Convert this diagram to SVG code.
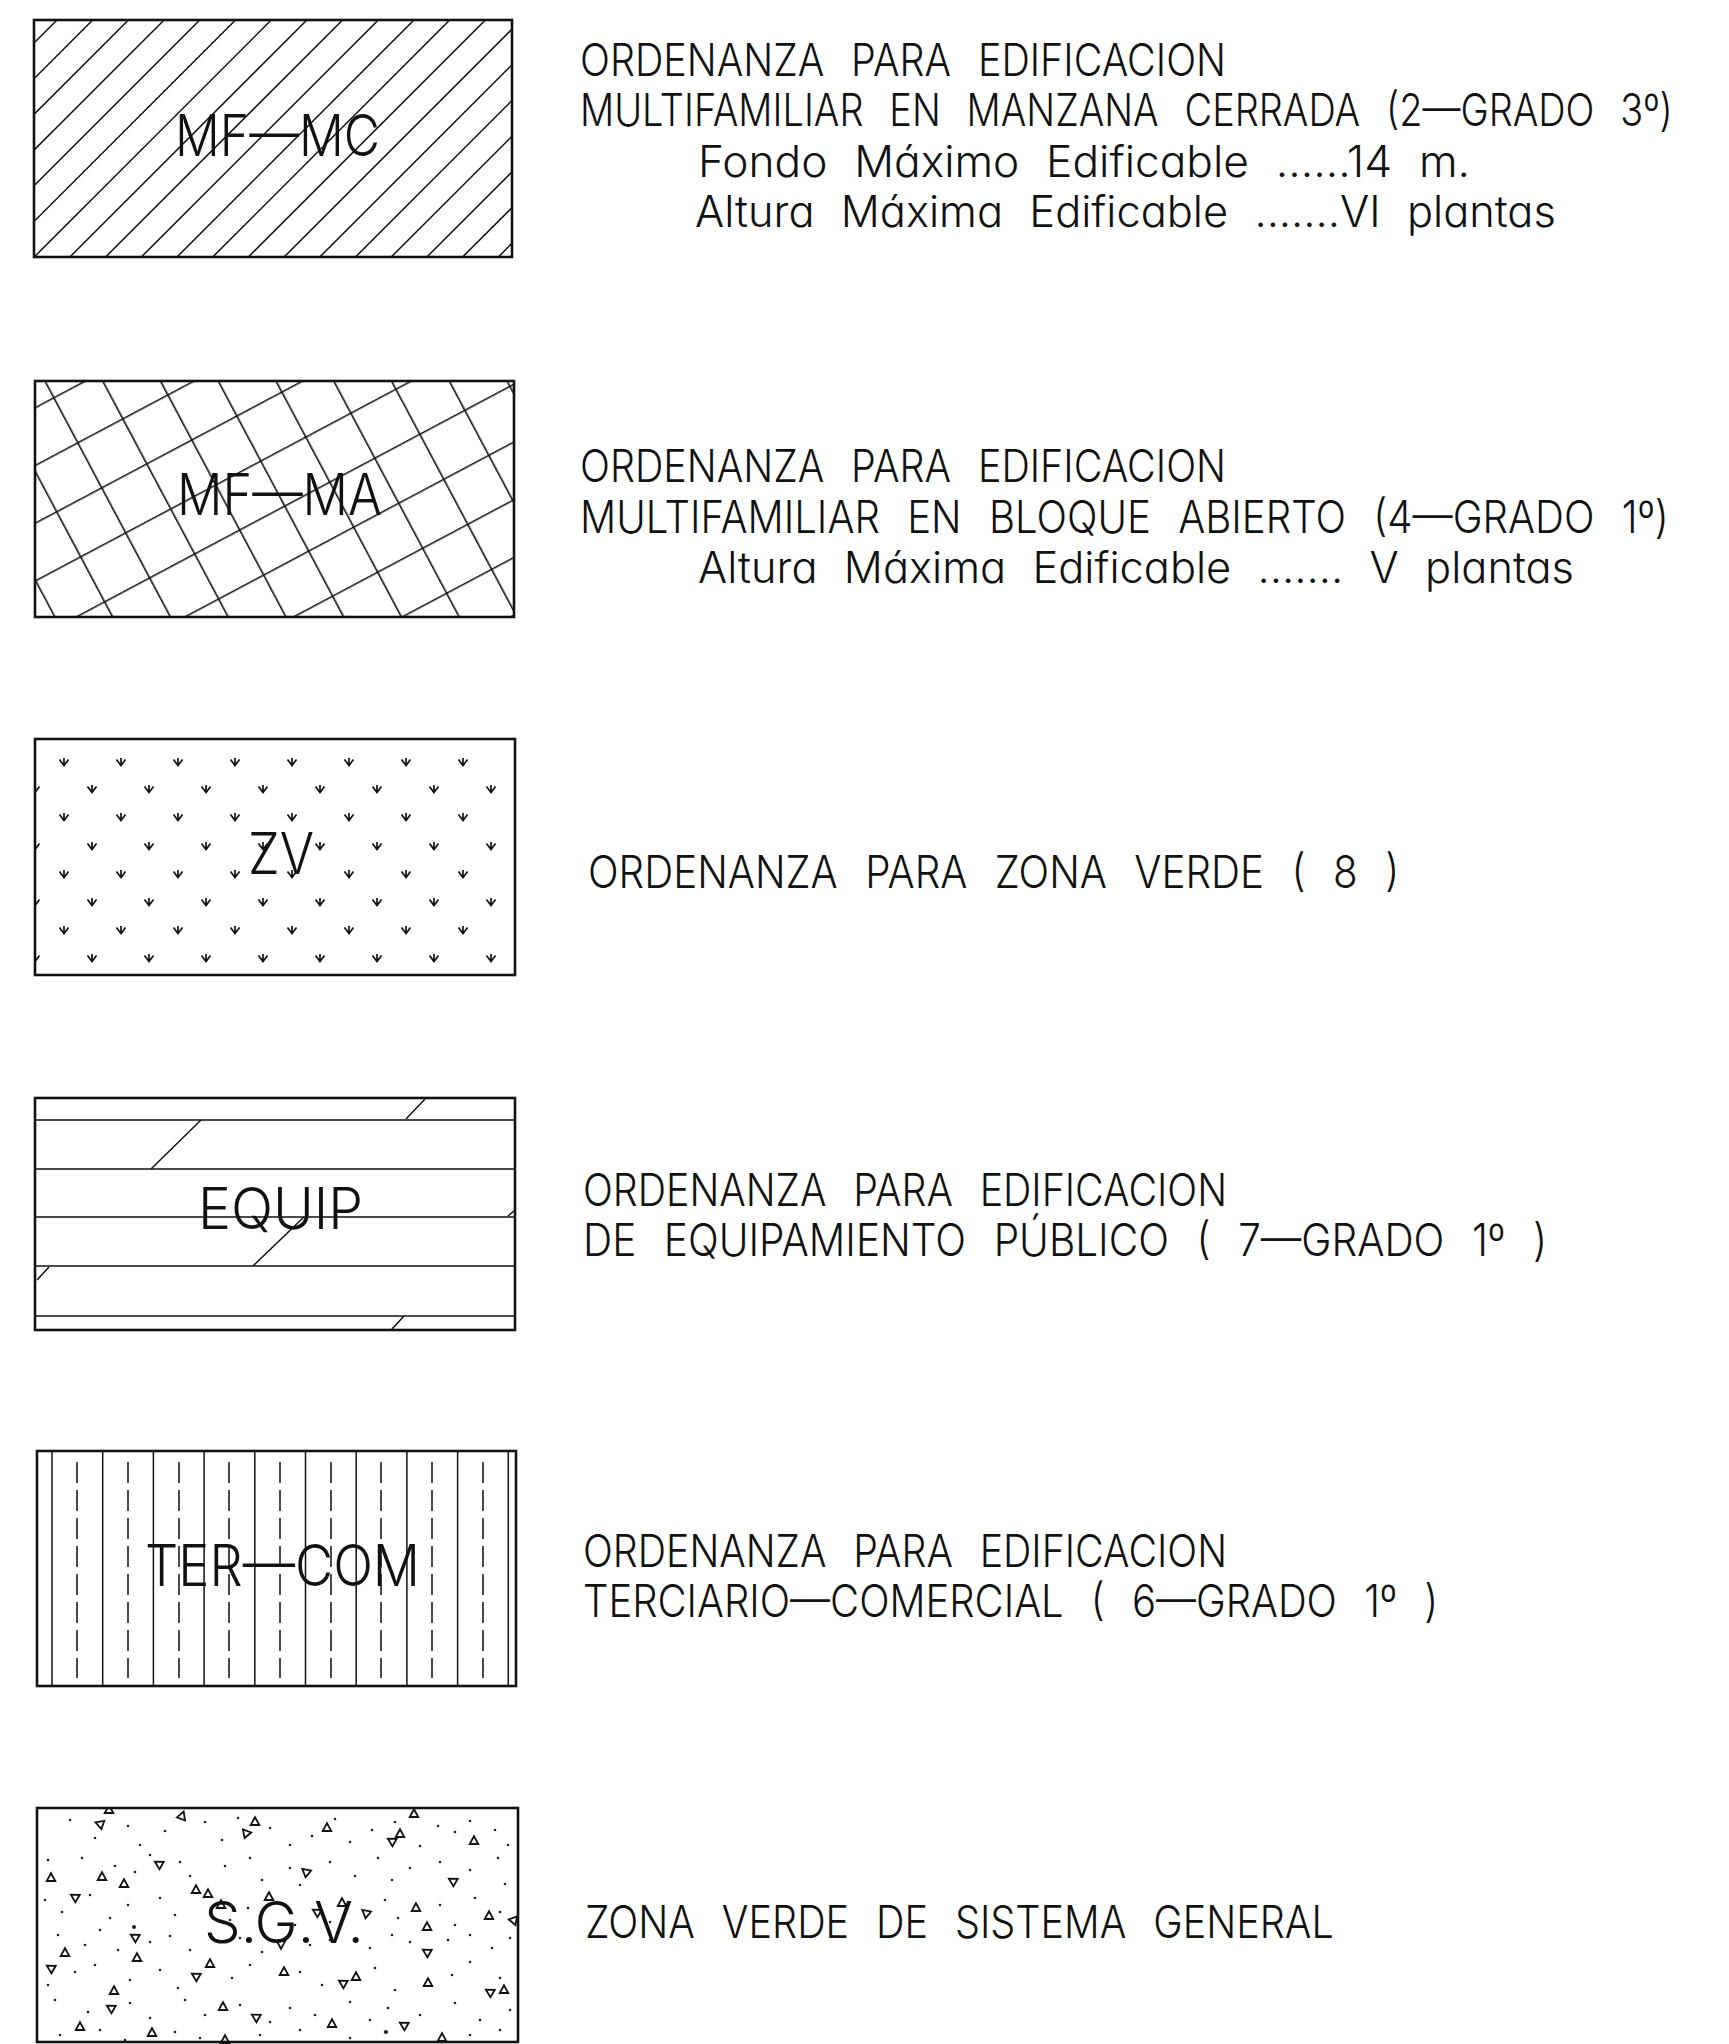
<svg xmlns="http://www.w3.org/2000/svg" width="1729" height="2044" viewBox="0 0 1729 2044">
<style>
.box{fill:none;stroke:#111;stroke-width:2.6}
.h{fill:none;stroke:#111;stroke-width:1.5}
.lbl{font-family:Inter,"Liberation Sans",Arial,sans-serif;font-weight:300;font-size:57px;fill:#111}
.t{font-family:Inter,"Liberation Sans",Arial,sans-serif;font-weight:300;font-size:45px;fill:#111;word-spacing:18px}
.s{font-family:Inter,"Liberation Sans",Arial,sans-serif;font-weight:300;font-size:43px;fill:#111;word-spacing:14px;font-feature-settings:"cv11"}
.sym{fill:none;stroke:#111;stroke-width:1.7}
.tri{fill:none;stroke:#111;stroke-width:1.8}
.dot{fill:#222}
</style>
<defs>
<pattern id="p2" patternUnits="userSpaceOnUse" x="0" y="18.7" width="51" height="51" patternTransform="translate(44,381) rotate(-28)">
<path d="M0,0 H51 M0,0 V51" stroke="#111" stroke-width="3.2"/>
</pattern>
<clipPath id="c1"><rect x="34" y="20" width="478" height="237"/></clipPath>
<clipPath id="c3"><rect x="35" y="739" width="480" height="236"/></clipPath>
<clipPath id="c6"><rect x="37" y="1808" width="481" height="236"/></clipPath>
<path id="v" class="sym" d="M-4.5,-3.5 L0,2.5 L4.5,-3.5 M0,-5 V2.5"/>
<path id="tr" class="tri" d="M0,-4.8 L4.3,3 L-4.3,3 Z"/>
</defs>

<g id="connectors"></g>

<g id="node-mfmc">
<path class="h" clip-path="url(#c1)" d="M-180,257 L57,20 M-144.3,257 L92.7,20 M-108.6,257 L128.4,20 M-72.9,257 L164.1,20 M-37.2,257 L199.8,20 M-1.5,257 L235.5,20 M34.2,257 L271.2,20 M69.9,257 L306.9,20 M105.6,257 L342.6,20 M141.3,257 L378.3,20 M177,257 L414,20 M212.7,257 L449.7,20 M248.4,257 L485.4,20 M284.1,257 L521.1,20 M319.8,257 L556.8,20 M355.5,257 L592.5,20 M391.2,257 L628.2,20 M426.9,257 L663.9,20 M462.6,257 L699.6,20 M498.3,257 L735.3,20"/>
<rect class="box" x="34" y="20" width="478" height="237"/>
<text class="lbl" x="175" y="156" textLength="205" lengthAdjust="spacingAndGlyphs">MF—MC</text>
</g>
<g id="legend-mfmc">
<text class="t" transform="matrix(0.8 0 0 1 580 76)" textLength="807.5" lengthAdjust="spacingAndGlyphs">ORDENANZA PARA EDIFICACION</text>
<text class="t" transform="matrix(0.8 0 0 1 580 126)" textLength="1366" lengthAdjust="spacingAndGlyphs">MULTIFAMILIAR EN MANZANA CERRADA (2—GRADO 3º)</text>
<text class="s" transform="matrix(0.8 0 0 1 698 177)" textLength="965" lengthAdjust="spacingAndGlyphs">Fondo Máximo Edificable ......14 m.</text>
<text class="s" transform="matrix(0.8 0 0 1 695 227)" textLength="1076" lengthAdjust="spacingAndGlyphs">Altura Máxima Edificable .......VI plantas</text>
</g>

<g id="node-mfma">
<rect x="35" y="381" width="479" height="236" fill="url(#p2)"/>
<rect class="box" x="35" y="381" width="479" height="236"/>
<text class="lbl" x="177" y="515" textLength="205" lengthAdjust="spacingAndGlyphs">MF—MA</text>
</g>
<g id="legend-mfma">
<text class="t" transform="matrix(0.8 0 0 1 580 482)" textLength="807.5" lengthAdjust="spacingAndGlyphs">ORDENANZA PARA EDIFICACION</text>
<text class="t" transform="matrix(0.8 0 0 1 580 533)" textLength="1361" lengthAdjust="spacingAndGlyphs">MULTIFAMILIAR EN BLOQUE ABIERTO (4—GRADO 1º)</text>
<text class="s" transform="matrix(0.8 0 0 1 698 583)" textLength="1095" lengthAdjust="spacingAndGlyphs">Altura Máxima Edificable ....... V plantas</text>
</g>

<g id="node-zv">
<g clip-path="url(#c3)">
<use href="#v" x="64" y="763"/><use href="#v" x="121" y="763"/><use href="#v" x="178" y="763"/><use href="#v" x="235" y="763"/><use href="#v" x="292" y="763"/><use href="#v" x="349" y="763"/><use href="#v" x="406" y="763"/><use href="#v" x="463" y="763"/>
<use href="#v" x="35" y="790"/><use href="#v" x="92" y="790"/><use href="#v" x="149" y="790"/><use href="#v" x="206" y="790"/><use href="#v" x="263" y="790"/><use href="#v" x="320" y="790"/><use href="#v" x="377" y="790"/><use href="#v" x="434" y="790"/><use href="#v" x="491" y="790"/>
<use href="#v" x="64" y="818"/><use href="#v" x="121" y="818"/><use href="#v" x="178" y="818"/><use href="#v" x="235" y="818"/><use href="#v" x="292" y="818"/><use href="#v" x="349" y="818"/><use href="#v" x="406" y="818"/><use href="#v" x="463" y="818"/>
<use href="#v" x="35" y="847"/><use href="#v" x="92" y="847"/><use href="#v" x="149" y="847"/><use href="#v" x="206" y="847"/><use href="#v" x="263" y="847"/><use href="#v" x="320" y="847"/><use href="#v" x="377" y="847"/><use href="#v" x="434" y="847"/><use href="#v" x="491" y="847"/>
<use href="#v" x="64" y="875"/><use href="#v" x="121" y="875"/><use href="#v" x="178" y="875"/><use href="#v" x="235" y="875"/><use href="#v" x="292" y="875"/><use href="#v" x="349" y="875"/><use href="#v" x="406" y="875"/><use href="#v" x="463" y="875"/>
<use href="#v" x="35" y="903"/><use href="#v" x="92" y="903"/><use href="#v" x="149" y="903"/><use href="#v" x="206" y="903"/><use href="#v" x="263" y="903"/><use href="#v" x="320" y="903"/><use href="#v" x="377" y="903"/><use href="#v" x="434" y="903"/><use href="#v" x="491" y="903"/>
<use href="#v" x="64" y="931"/><use href="#v" x="121" y="931"/><use href="#v" x="178" y="931"/><use href="#v" x="235" y="931"/><use href="#v" x="292" y="931"/><use href="#v" x="349" y="931"/><use href="#v" x="406" y="931"/><use href="#v" x="463" y="931"/>
<use href="#v" x="35" y="959"/><use href="#v" x="92" y="959"/><use href="#v" x="149" y="959"/><use href="#v" x="206" y="959"/><use href="#v" x="263" y="959"/><use href="#v" x="320" y="959"/><use href="#v" x="377" y="959"/><use href="#v" x="434" y="959"/><use href="#v" x="491" y="959"/>
</g>
<rect class="box" x="35" y="739" width="480" height="236"/>
<text class="lbl" x="248" y="874" textLength="66" lengthAdjust="spacingAndGlyphs">ZV</text>
</g>
<g id="legend-zv">
<text class="t" transform="matrix(0.8 0 0 1 588 888)" textLength="1014" lengthAdjust="spacingAndGlyphs">ORDENANZA PARA ZONA VERDE ( 8 )</text>
</g>

<g id="node-equip">
<path class="h" d="M35,1120 H515 M35,1169 H515 M35,1217 H515 M35,1266 H515 M35,1316 H515"/>
<path class="h" d="M406,1119 L425,1099 M151,1169 L201,1120 M508,1216 L515,1210 M253,1266 L304,1217 M37,1280 L49,1267 M392,1329 L404,1316"/>
<rect class="box" x="35" y="1098" width="480" height="232"/>
<text class="lbl" x="198" y="1229" textLength="165" lengthAdjust="spacingAndGlyphs">EQUIP</text>
</g>
<g id="legend-equip">
<text class="t" transform="matrix(0.8 0 0 1 583 1206)" textLength="805" lengthAdjust="spacingAndGlyphs">ORDENANZA PARA EDIFICACION</text>
<text class="t" transform="matrix(0.8 0 0 1 583 1256)" textLength="1205" lengthAdjust="spacingAndGlyphs">DE EQUIPAMIENTO PÚBLICO ( 7—GRADO 1º )</text>
</g>

<g id="node-tercom">
<path class="h" d="M52,1451 V1686 M102.7,1451 V1686 M153.4,1451 V1686 M204.1,1451 V1686 M254.8,1451 V1686 M305.5,1451 V1686 M356.2,1451 V1686 M406.9,1451 V1686 M457.6,1451 V1686 M508.3,1451 V1686"/>
<path class="h" stroke-dasharray="21 7" d="M77,1462 V1678 M128,1462 V1678 M179,1462 V1678 M229,1462 V1678 M280,1462 V1678 M331,1462 V1678 M381,1462 V1678 M432,1462 V1678 M483,1462 V1678"/>
<rect class="box" x="37" y="1451" width="479" height="235"/>
<text class="lbl" x="145" y="1586" textLength="275" lengthAdjust="spacingAndGlyphs">TER—COM</text>
</g>
<g id="legend-tercom">
<text class="t" transform="matrix(0.8 0 0 1 583 1567)" textLength="805" lengthAdjust="spacingAndGlyphs">ORDENANZA PARA EDIFICACION</text>
<text class="t" transform="matrix(0.8 0 0 1 583 1617)" textLength="1069" lengthAdjust="spacingAndGlyphs">TERCIARIO—COMERCIAL ( 6—GRADO 1º )</text>
</g>

<g id="node-sgv">
<g clip-path="url(#c6)">
<use href="#tr" x="109" y="1810"/><use href="#tr" transform="rotate(20 182 1816)" x="182" y="1816"/><use href="#tr" transform="rotate(-70 100 1824)" x="100" y="1824"/><use href="#tr" x="255" y="1822"/><use href="#tr" transform="rotate(-40 246 1833)" x="246" y="1833"/><use href="#tr" x="327" y="1828"/><use href="#tr" x="414" y="1814"/><use href="#tr" x="400" y="1834"/><use href="#tr" transform="rotate(-60 392 1841)" x="392" y="1841"/><use href="#tr" x="474" y="1841"/>
<use href="#tr" transform="rotate(-60 159 1864)" x="159" y="1864"/><use href="#tr" transform="rotate(-50 306 1872)" x="306" y="1872"/><use href="#tr" x="51" y="1878"/><use href="#tr" x="102" y="1877"/><use href="#tr" x="124" y="1884"/><use href="#tr" transform="rotate(-60 453 1881)" x="453" y="1881"/><use href="#tr" transform="rotate(-60 75 1897)" x="75" y="1897"/><use href="#tr" x="196" y="1890"/><use href="#tr" x="208" y="1894"/><use href="#tr" x="269" y="1897"/>
<use href="#tr" x="221" y="1905"/><use href="#tr" transform="rotate(-60 317 1912)" x="317" y="1912"/><use href="#tr" x="342" y="1903"/><use href="#tr" transform="rotate(-50 366 1913)" x="366" y="1913"/><use href="#tr" x="416" y="1908"/><use href="#tr" x="489" y="1916"/><use href="#tr" transform="rotate(40 514 1920)" x="514" y="1920"/><use href="#tr" x="427" y="1927"/><use href="#tr" transform="rotate(-60 135 1937)" x="135" y="1937"/><use href="#tr" transform="rotate(180 281 1944)" x="281" y="1944"/>
<use href="#tr" transform="rotate(-60 427 1952)" x="427" y="1952"/><use href="#tr" x="65" y="1953"/><use href="#tr" x="137" y="1958"/><use href="#tr" transform="rotate(-60 51 1968)" x="51" y="1968"/><use href="#tr" x="210" y="1964"/><use href="#tr" transform="rotate(-60 196 1976)" x="196" y="1976"/><use href="#tr" x="284" y="1972"/><use href="#tr" x="356" y="1977"/><use href="#tr" transform="rotate(-60 343 1983)" x="343" y="1983"/><use href="#tr" x="428" y="1983"/>
<use href="#tr" x="114" y="1991"/><use href="#tr" transform="rotate(-60 490 1992)" x="490" y="1992"/><use href="#tr" x="504" y="1990"/><use href="#tr" x="223" y="2007"/><use href="#tr" transform="rotate(-60 111 2008)" x="111" y="2008"/><use href="#tr" transform="rotate(-60 256 2017)" x="256" y="2017"/><use href="#tr" x="80" y="2027"/><use href="#tr" x="332" y="2024"/><use href="#tr" transform="rotate(-60 404 2025)" x="404" y="2025"/><use href="#tr" x="152" y="2033"/><use href="#tr" x="225" y="2040"/><use href="#tr" x="442" y="2038"/>
<g class="dot">
<circle cx="70" cy="1820" r="1.3"/><circle cx="95" cy="1838" r="1.3"/><circle cx="128" cy="1826" r="1.3"/><circle cx="140" cy="1845" r="1.3"/><circle cx="165" cy="1831" r="1.3"/><circle cx="205" cy="1822" r="1.3"/><circle cx="222" cy="1840" r="1.3"/><circle cx="238" cy="1818" r="1.3"/><circle cx="270" cy="1828" r="1.3"/><circle cx="290" cy="1845" r="1.3"/><circle cx="312" cy="1836" r="1.3"/><circle cx="335" cy="1819" r="1.3"/><circle cx="350" cy="1842" r="1.3"/><circle cx="372" cy="1830" r="1.3"/><circle cx="395" cy="1822" r="1.3"/><circle cx="420" cy="1846" r="1.3"/><circle cx="438" cy="1826" r="1.3"/><circle cx="455" cy="1832" r="1.3"/><circle cx="470" cy="1821" r="1.3"/><circle cx="495" cy="1830" r="1.3"/><circle cx="508" cy="1845" r="1.3"/>
<circle cx="48" cy="1860" r="1.3"/><circle cx="82" cy="1858" r="1.3"/><circle cx="115" cy="1866" r="1.3"/><circle cx="135" cy="1872" r="1.3"/><circle cx="150" cy="1855" r="1.3"/><circle cx="180" cy="1862" r="1.3"/><circle cx="190" cy="1876" r="1.3"/><circle cx="225" cy="1866" r="1.3"/><circle cx="250" cy="1858" r="1.3"/><circle cx="262" cy="1880" r="1.3"/><circle cx="290" cy="1868" r="1.3"/><circle cx="300" cy="1885" r="1.3"/><circle cx="330" cy="1862" r="1.3"/><circle cx="355" cy="1876" r="1.3"/><circle cx="378" cy="1858" r="1.3"/><circle cx="392" cy="1880" r="1.3"/><circle cx="410" cy="1868" r="1.3"/><circle cx="440" cy="1862" r="1.3"/><circle cx="470" cy="1870" r="1.3"/><circle cx="498" cy="1858" r="1.3"/><circle cx="505" cy="1884" r="1.3"/>
<circle cx="45" cy="1900" r="1.3"/><circle cx="62" cy="1912" r="1.3"/><circle cx="90" cy="1895" r="1.3"/><circle cx="110" cy="1918" r="1.3"/><circle cx="128" cy="1905" r="1.3"/><circle cx="160" cy="1898" r="1.3"/><circle cx="175" cy="1915" r="1.3"/><circle cx="230" cy="1920" r="1.3"/><circle cx="248" cy="1908" r="1.3"/><circle cx="295" cy="1925" r="1.3"/><circle cx="330" cy="1922" r="1.3"/><circle cx="385" cy="1900" r="1.3"/><circle cx="398" cy="1918" r="1.3"/><circle cx="440" cy="1905" r="1.3"/><circle cx="455" cy="1925" r="1.3"/><circle cx="475" cy="1898" r="1.3"/><circle cx="500" cy="1912" r="1.3"/>
<circle cx="58" cy="1935" r="1.3"/><circle cx="85" cy="1945" r="1.3"/><circle cx="100" cy="1930" r="1.3"/><circle cx="118" cy="1950" r="1.3"/><circle cx="150" cy="1942" r="1.3"/><circle cx="170" cy="1936" r="1.3"/><circle cx="190" cy="1950" r="1.3"/><circle cx="240" cy="1938" r="1.3"/><circle cx="262" cy="1952" r="1.3"/><circle cx="310" cy="1945" r="1.3"/><circle cx="330" cy="1940" r="1.3"/><circle cx="370" cy="1948" r="1.3"/><circle cx="392" cy="1935" r="1.3"/><circle cx="410" cy="1942" r="1.3"/><circle cx="448" cy="1940" r="1.3"/><circle cx="470" cy="1935" r="1.3"/><circle cx="492" cy="1948" r="1.3"/><circle cx="510" cy="1938" r="1.3"/>
<circle cx="48" cy="1985" r="1.3"/><circle cx="75" cy="1972" r="1.3"/><circle cx="95" cy="1965" r="1.3"/><circle cx="130" cy="1980" r="1.3"/><circle cx="160" cy="1970" r="1.3"/><circle cx="178" cy="1988" r="1.3"/><circle cx="232" cy="1978" r="1.3"/><circle cx="250" cy="1965" r="1.3"/><circle cx="300" cy="1972" r="1.3"/><circle cx="322" cy="1985" r="1.3"/><circle cx="375" cy="1968" r="1.3"/><circle cx="395" cy="1990" r="1.3"/><circle cx="452" cy="1975" r="1.3"/><circle cx="470" cy="1962" r="1.3"/><circle cx="500" cy="1978" r="1.3"/>
<circle cx="55" cy="2000" r="1.3"/><circle cx="88" cy="2012" r="1.3"/><circle cx="130" cy="2003" r="1.3"/><circle cx="150" cy="2018" r="1.3"/><circle cx="185" cy="2000" r="1.3"/><circle cx="205" cy="2015" r="1.3"/><circle cx="240" cy="2005" r="1.3"/><circle cx="270" cy="2022" r="1.3"/><circle cx="290" cy="2008" r="1.3"/><circle cx="315" cy="2015" r="1.3"/><circle cx="350" cy="2002" r="1.3"/><circle cx="370" cy="2020" r="1.3"/><circle cx="388" cy="2008" r="1.3"/><circle cx="420" cy="2015" r="1.3"/><circle cx="455" cy="2003" r="1.3"/><circle cx="480" cy="2020" r="1.3"/><circle cx="510" cy="2010" r="1.3"/>
<circle cx="60" cy="2035" r="1.3"/><circle cx="100" cy="2030" r="1.3"/><circle cx="125" cy="2040" r="1.3"/><circle cx="175" cy="2032" r="1.3"/><circle cx="200" cy="2038" r="1.3"/><circle cx="260" cy="2035" r="1.3"/><circle cx="300" cy="2030" r="1.3"/><circle cx="350" cy="2038" r="1.3"/><circle cx="385" cy="2032" r="1.3"/><circle cx="470" cy="2035" r="1.3"/><circle cx="500" cy="2030" r="1.3"/>
<circle cx="134" cy="1927" r="2"/><circle cx="386" cy="2032" r="2"/>
</g>
</g>
<rect class="box" x="37" y="1808" width="481" height="234"/>
<text class="lbl" x="204" y="1943" textLength="160" lengthAdjust="spacingAndGlyphs">S.G.V.</text>
</g>
<g id="legend-sgv">
<text class="t" transform="matrix(0.8 0 0 1 585 1938)" textLength="936" lengthAdjust="spacingAndGlyphs">ZONA VERDE DE SISTEMA GENERAL</text>
</g>
</svg>
